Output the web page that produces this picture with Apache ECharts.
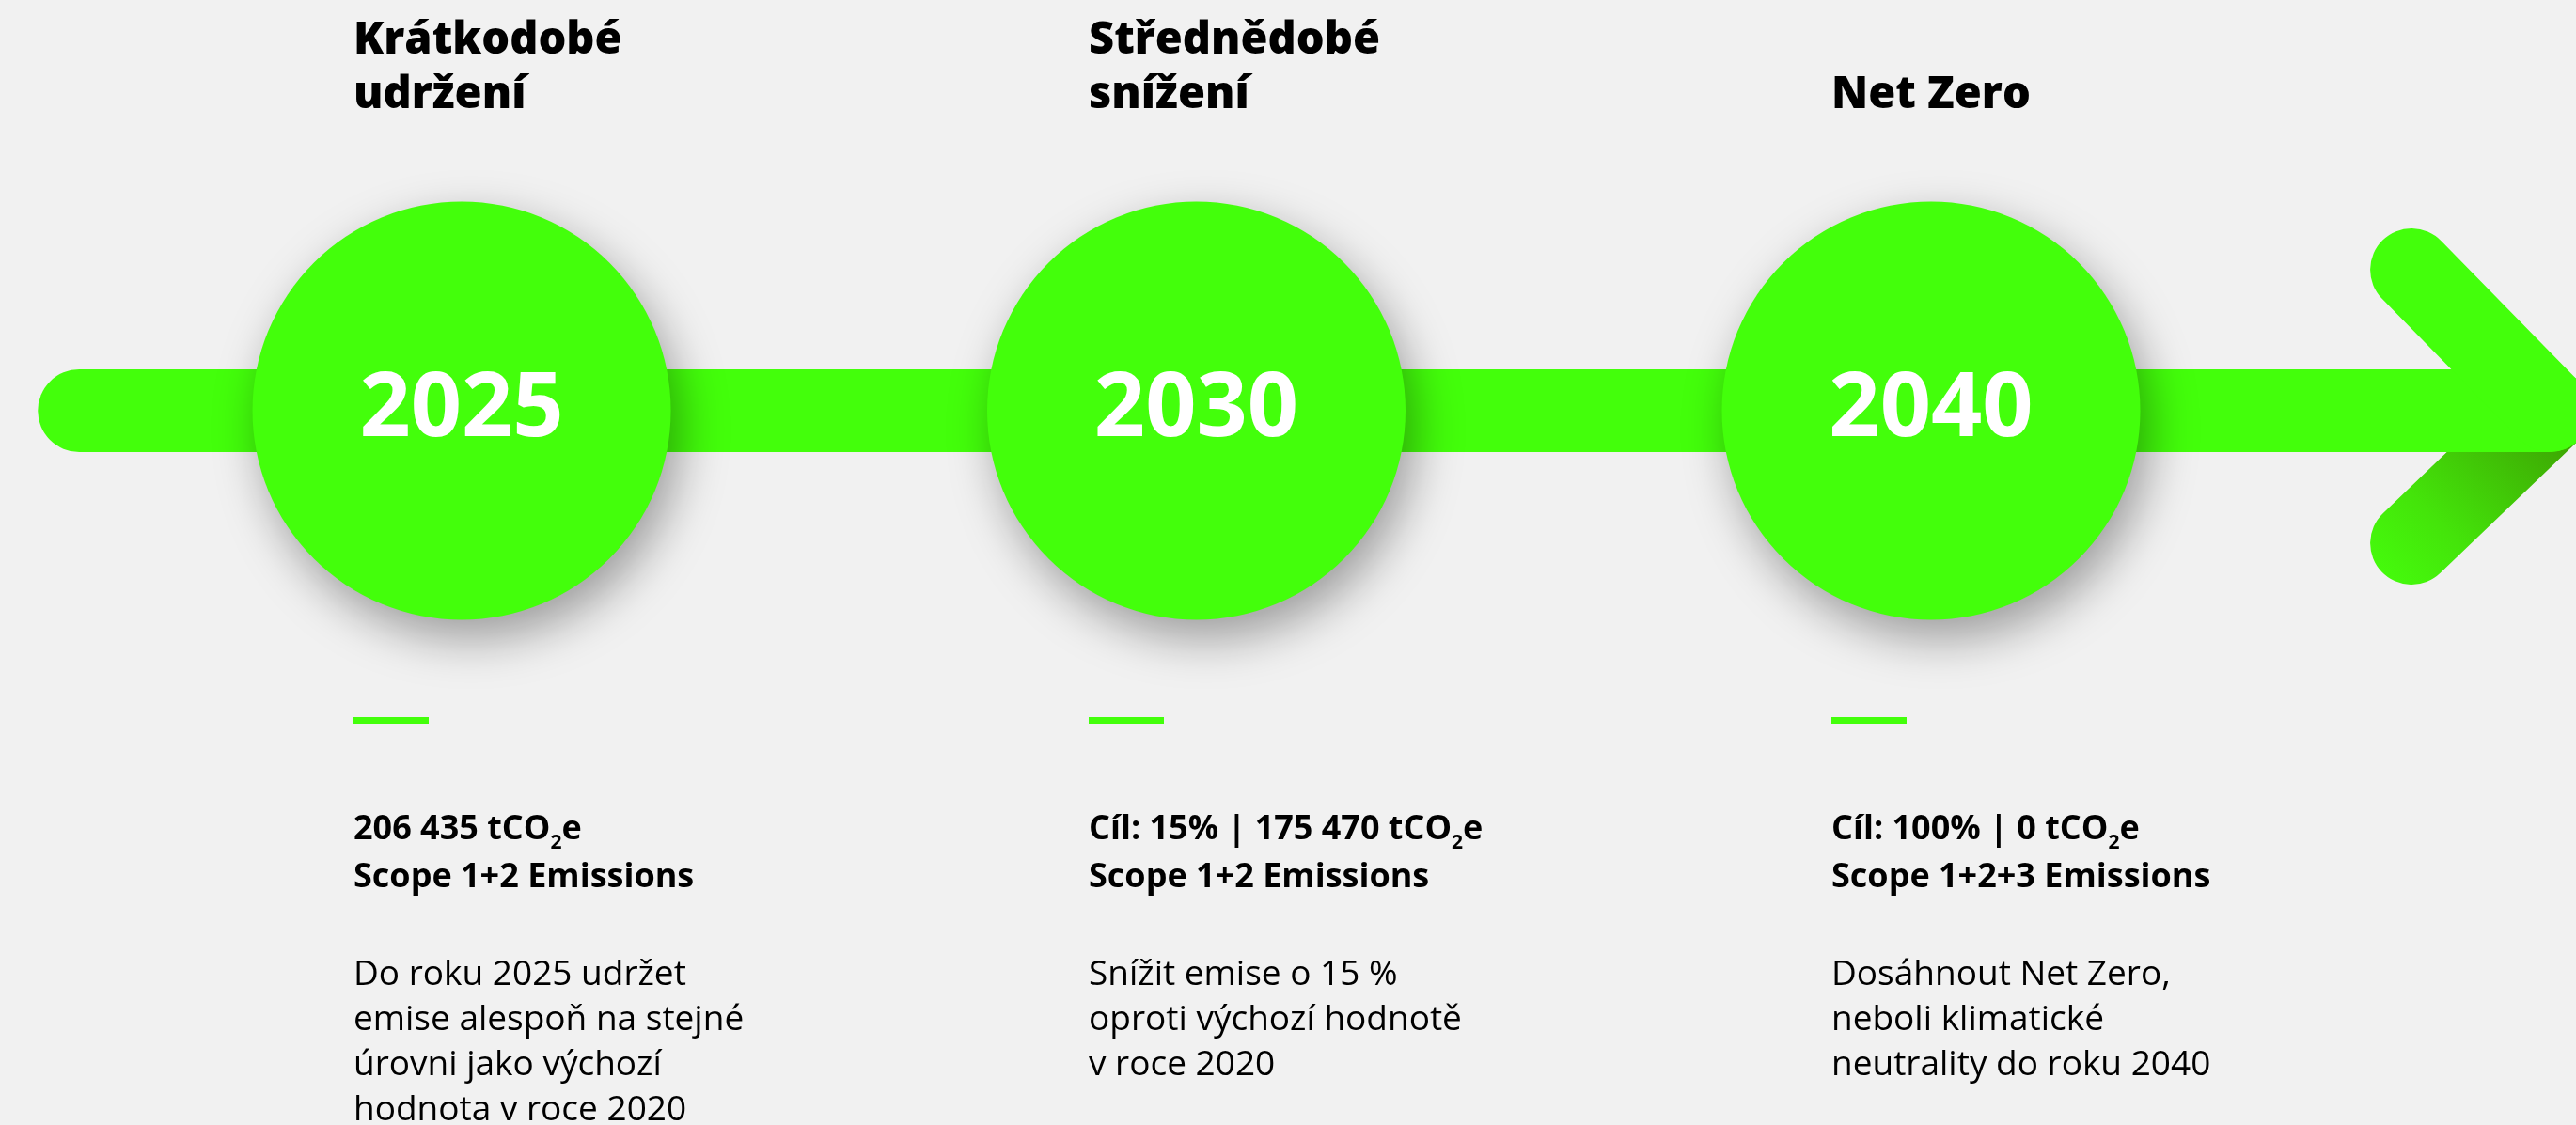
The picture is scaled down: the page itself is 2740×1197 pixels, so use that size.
<!DOCTYPE html>
<html>
<head>
<meta charset="utf-8">
<title>Cíle snižování emisí</title>
<script src="https://cdn.jsdelivr.net/npm/echarts@6/dist/echarts.min.js"></script>
<style>
  html, body { margin: 0; padding: 0; background: #f1f1f1; }
  #chart { width: 2740px; height: 1197px; }
</style>
</head>
<body>
<div id="chart"></div>
<script>
  // milníky na časové ose
  var years = ['2025', '2030', '2040']
  var titles = ['Krátkodobé\nudržení', 'Střednědobé\nsnížení', 'Net Zero']
  var targets = ['206 435 tCO₂e', 'Cíl: 15% | 175 470 tCO₂e', 'Cíl: 100% | 0 tCO₂e']
  var scopes = ['Scope 1+2 Emissions', 'Scope 1+2 Emissions', 'Scope 1+2+3 Emissions']
  var descriptions = [
    'Do roku 2025 udržet\nemise alespoň na stejné\núrovni jako výchozí\nhodnota v roce 2020',
    'Snížit emise o 15 %\noproti výchozí hodnotě\nv roce 2020',
    'Dosáhnout Net Zero,\nneboli klimatické\nneutrality do roku 2040'
  ]

  var green = '#43ff0b'
  var font = 'Open Sans'

  // tvar šipky: x v pořadí milníku, y v px od osy
  var barStart = -0.5205
  var arrowTip = 2.842
  var armStart = 2.654
  var armUp = -150
  var armDown = 141

  // levé okraje textových sloupců
  var textLeft = [376, 1158, 1948]

  var myChart = echarts.init(document.getElementById('chart'))

  var graphics = []
  years.forEach(function (y, i) {
    graphics.push({
      type: 'text',
      left: textLeft[i],
      bottom: 1197 - 131,
      style: {
        text: titles[i],
        fontFamily: font,
        fontSize: 47,
        fontWeight: 800,
        lineHeight: 58,
        fill: '#000'
      }
    })
    graphics.push({
      type: 'rect',
      left: textLeft[i],
      top: 763,
      shape: { width: 80, height: 7 },
      style: { fill: green }
    })
    graphics.push({
      type: 'text',
      left: textLeft[i],
      top: 857,
      style: {
        text: targets[i].replace('₂', '{sub|2}') + '\n' + scopes[i],
        fontFamily: font,
        fontSize: 36,
        fontWeight: 'bold',
        lineHeight: 51,
        fill: '#000',
        rich: {
          sub: {
            fontFamily: font,
            fontSize: 21,
            fontWeight: 'bold',
            verticalAlign: 'bottom',
            fill: '#000'
          }
        }
      }
    })
    graphics.push({
      type: 'text',
      left: textLeft[i],
      top: 1013,
      style: {
        text: descriptions[i],
        fontFamily: font,
        fontSize: 37,
        fontWeight: 'normal',
        lineHeight: 48,
        fill: '#000'
      }
    })
  })

  var option = {
    backgroundColor: '#f1f1f1',
    animation: false,
    grid: { left: 0, right: 0, top: 0, bottom: 0 },
    xAxis: { type: 'value', min: -0.6283, max: 2.8778, show: false },
    yAxis: { type: 'value', min: -437, max: 760, inverse: true, show: false },
    series: [
      {
        // spodní rameno šipky ve stínu
        type: 'line',
        z: 1,
        symbol: 'none',
        silent: true,
        clip: false,
        data: [[armStart, armDown], [arrowTip, 0]],
        lineStyle: {
          width: 88,
          cap: 'round',
          color: new echarts.graphic.LinearGradient(0, 1, 1, 0, [
            { offset: 0, color: '#45ff0c' },
            { offset: 0.3, color: '#44e40a' },
            { offset: 1, color: '#3a8a00' }
          ])
        }
      },
      {
        type: 'line',
        z: 2,
        symbol: 'none',
        silent: true,
        clip: false,
        data: [[barStart, 0], [arrowTip, 0]],
        lineStyle: { width: 88, cap: 'round', color: green }
      },
      {
        type: 'line',
        z: 3,
        symbol: 'none',
        silent: true,
        clip: false,
        data: [[armStart, armUp], [arrowTip, 0]],
        lineStyle: { width: 88, cap: 'round', color: green }
      },
      {
        type: 'scatter',
        z: 4,
        silent: true,
        clip: false,
        symbolSize: 445,
        data: years.map(function (y, i) { return [i, 0] }),
        itemStyle: {
          color: green,
          opacity: 1,
          shadowBlur: 50,
          shadowColor: 'rgba(0, 0, 0, 0.35)',
          shadowOffsetX: 10,
          shadowOffsetY: 20
        },
        label: {
          show: true,
          position: 'inside',
          formatter: function (p) { return years[p.dataIndex] },
          color: '#fff',
          fontFamily: font,
          fontSize: 95,
          fontWeight: 'bold'
        }
      }
    ],
    graphic: graphics
  }
  myChart.setOption(option)
</script>
</body>
</html>
